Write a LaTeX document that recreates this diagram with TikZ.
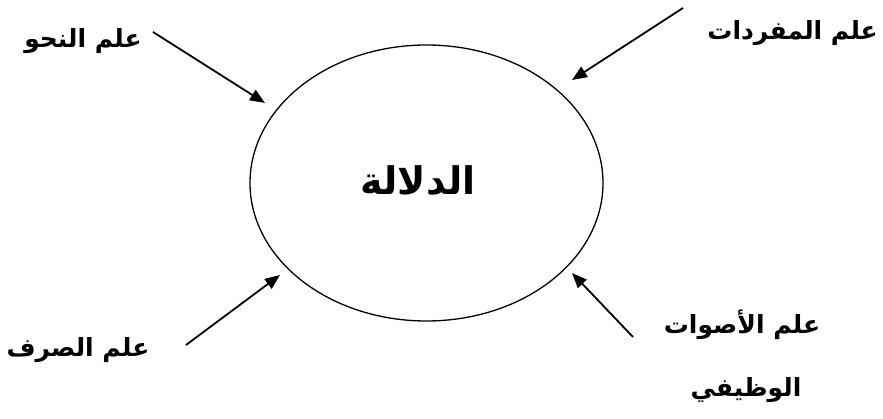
\documentclass[tikz,border=0pt]{standalone}
\usepackage{fontspec}
\TeXXeTstate=1
\newfontfamily\arabicfont[Script=Arabic]{DejaVu Sans}
\usetikzlibrary{arrows.meta,shapes.geometric}
\tikzset{
  lbl/.style={font=\arabicfont\bfseries\fontsize{25}{28}\selectfont, inner sep=0pt},
  arr/.style={line width=1.8pt, -{Triangle[length=15pt,width=12pt]}},
}
\begin{document}
\begin{tikzpicture}[x=1pt,y=-1pt]
\useasboundingbox (0,0) rectangle (883,419);
\node[draw, line width=1.3pt, ellipse, minimum width=353pt, minimum height=276pt, inner sep=0pt] (e) at (426.5,183) {};
\node[font=\arabicfont\bfseries\fontsize{38}{40}\selectfont, inner sep=0pt] (c) at (418,181) {\beginR الدلالة\endR};
\node[lbl] (nahw) at (83,41) {\beginR علم النحو\endR};
\node[lbl, anchor=east] (mufr) at (878,33) {\beginR علم المفردات\endR};
\node[lbl] (sarf) at (78,350) {\beginR علم الصرف\endR};
\node[lbl] (aswat) at (742,325) {\beginR علم الأصوات\endR};
\node[lbl] (wazifi) at (746,390) {\beginR الوظيفي\endR};
\coordinate (a1s) at (153,32); \coordinate (a1e) at (265,103);
\coordinate (a2s) at (683,8); \coordinate (a2e) at (572,80);
\coordinate (a3s) at (186,345); \coordinate (a3e) at (280,275);
\coordinate (a4s) at (633,337); \coordinate (a4e) at (572,273);
\draw[arr] (a1s) -- (a1e);
\draw[arr] (a2s) -- (a2e);
\draw[arr] (a3s) -- (a3e);
\draw[arr] (a4s) -- (a4e);
\end{tikzpicture}
\end{document}
